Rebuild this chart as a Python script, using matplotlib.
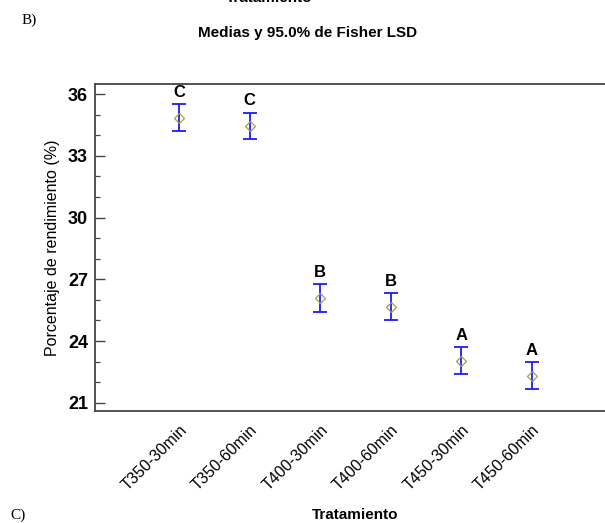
import matplotlib
matplotlib.use("Agg")
import matplotlib.pyplot as plt
from matplotlib.ticker import MultipleLocator

# Treatment groups, group means, LSD half-intervals and homogeneous-group letters
tratamientos = ["T350-30min", "T350-60min", "T400-30min", "T400-60min", "T450-30min", "T450-60min"]
medias = [34.85, 34.45, 26.09, 25.66, 23.04, 22.31]
intervalo_lsd = [0.65, 0.65, 0.66, 0.66, 0.66, 0.65]
grupos = ["C", "C", "B", "B", "A", "A"]
y_ticks = [21, 24, 27, 30, 33, 36]

plt.rcParams["font.family"] = ["Liberation Sans", "DejaVu Sans"]

fig = plt.figure(figsize=(6.05, 5.23), dpi=100)
ax = fig.add_axes([0.157, 0.2141, 0.861, 0.6253])

x = list(range(1, len(tratamientos) + 1))
ax.errorbar(x, medias, yerr=intervalo_lsd, fmt="none", ecolor="#1a1aff",
            elinewidth=1.3, capsize=5, capthick=1.3)
ax.plot(x, medias, linestyle="none", marker="D", markersize=5.5,
        markerfacecolor="none", markeredgecolor="#a8a040", markeredgewidth=0.9)

for xi, m, h, g in zip(x, medias, intervalo_lsd, grupos):
    ax.annotate(g, (xi, m + h), xytext=(0, 3), textcoords="offset points",
                ha="center", va="bottom", fontsize=12, fontweight="bold")

ax.set_xlim(-0.19, 7.19)
ax.set_ylim(20.6, 36.49)
ax.set_xticks(x)
ax.set_xticklabels(tratamientos, rotation=45, ha="right", rotation_mode="anchor",
                   fontsize=11.5)
ax.set_yticks(y_ticks)
ax.set_yticklabels([str(t) for t in y_ticks], fontsize=13, fontweight="bold")
ax.yaxis.set_minor_locator(MultipleLocator(1))
ax.tick_params(axis="y", which="major", direction="in", length=7, width=1, color="#444444", pad=5)
ax.tick_params(axis="y", which="minor", direction="in", length=3.5, width=0.9, color="#444444")
ax.tick_params(axis="x", which="both", length=0, pad=8)

for side in ["left", "top", "bottom", "right"]:
    ax.spines[side].set_color("#444444")
    ax.spines[side].set_linewidth(1.3)

ax.set_ylabel("Porcentaje de rendimiento (%)", fontsize=11.5, labelpad=6)
ax.set_xlabel("Tratamiento", fontsize=11, fontweight="bold", labelpad=11)

fig.text(0.509, 1 - 33 / 523, "Medias y 95.0% de Fisher LSD", ha="center", va="center",
         fontsize=11, fontweight="bold")
fig.text(0.445, 1 - 2 / 523, "Tratamiento", ha="center", va="baseline",
         fontsize=11, fontweight="bold")
fig.text(22 / 605, 1 - 20 / 523, "B)", ha="left", va="center", fontsize=11,
         family=["Liberation Serif", "DejaVu Serif"])
fig.text(10 / 605, 1 - 515 / 523, "C)", ha="left", va="center", fontsize=11,
         family=["Liberation Serif", "DejaVu Serif"])

fig.savefig("out.png", dpi=100)
